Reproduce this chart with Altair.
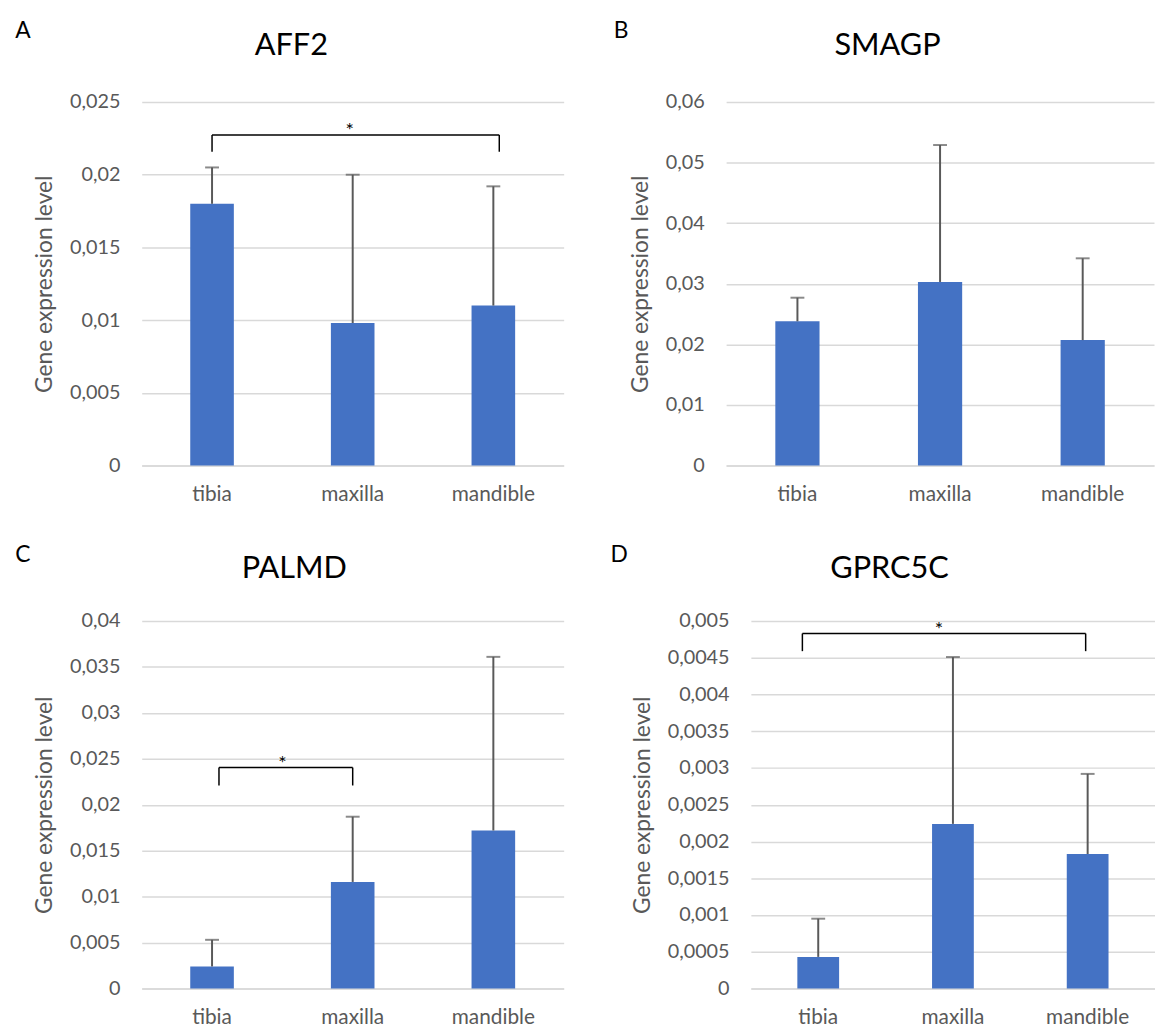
import altair as alt
import pandas as pd

categories = ["tibia", "maxilla", "mandible"]

aff2_mean = [0.0180, 0.0098, 0.0110]
aff2_upper = [0.0205, 0.0200, 0.0192]
smagp_mean = [0.0238, 0.0303, 0.0207]
smagp_upper = [0.0277, 0.0529, 0.0342]
palmd_mean = [0.0024, 0.0116, 0.0172]
palmd_upper = [0.0053, 0.0187, 0.0361]
gprc5c_mean = [0.00043, 0.00224, 0.00183]
gprc5c_upper = [0.00095, 0.00451, 0.00292]

aff2_ticks = [0, 0.005, 0.01, 0.015, 0.02, 0.025]
smagp_ticks = [0, 0.01, 0.02, 0.03, 0.04, 0.05, 0.06]
palmd_ticks = [0, 0.005, 0.01, 0.015, 0.02, 0.025, 0.03, 0.035, 0.04]
gprc5c_ticks = [0, 0.0005, 0.001, 0.0015, 0.002, 0.0025, 0.003, 0.0035, 0.004, 0.0045, 0.005]

# significance brackets: (from, to, line level, leg bottom)
aff2_sig = ("tibia", "mandible", 0.02273, 0.02158)
palmd_sig = ("tibia", "maxilla", 0.02405, 0.0221)
gprc5c_sig = ("tibia", "mandible", 0.00483, 0.00459)

BLUE = "#4472C4"
GREY = "#595959"
FONT = "Lato"


def xch(field, axis=None):
    kw = dict(scale=alt.Scale(domain=categories, paddingInner=0, paddingOuter=0), title=None)
    if axis is not None:
        kw["axis"] = axis
    return alt.X(field, **kw)


def panel(gene, letter, means, uppers, ticks, width, height,
          title_pos, letter_pos, sig=None, sig_offsets=(0, 0), star_dx=0):
    df = pd.DataFrame({"cat": categories, "mean": means, "upper": uppers})
    xaxis = alt.Axis(labelAngle=0, ticks=False, tickSize=0,
                     domainColor="#d9d9d9", domainWidth=1.5,
                     labelFontSize=21, labelColor=GREY, labelFont=FONT,
                     labelPadding=18)
    yscale = alt.Scale(domain=[ticks[0], ticks[-1]], nice=False)
    yaxis = alt.Axis(values=ticks, tickCount=len(ticks) + 2, grid=True,
                     gridColor="#d9d9d9", gridWidth=1.5,
                     domain=False, ticks=False, tickSize=0, labelOverlap=False,
                     labelExpr="replace(toString(datum.value), '.', ',')",
                     labelFontSize=20, labelColor=GREY, labelFont=FONT,
                     labelPadding=22, title="Gene expression level",
                     titleFontSize=23, titleColor=GREY, titleFont=FONT,
                     titleFontWeight="normal", titlePadding=13)
    base = alt.Chart(df)
    bars = base.mark_bar(color=BLUE, width=alt.RelativeBandSize(0.31)).encode(
        x=xch("cat:N", xaxis), y=alt.Y("mean:Q", scale=yscale, axis=yaxis))
    err = base.mark_rule(color=GREY, strokeWidth=2).encode(
        x=xch("cat:N"), y="mean:Q", y2="upper:Q")
    cap = base.mark_tick(color=GREY, thickness=2, size=14, orient="horizontal").encode(
        x=xch("cat:N"), y="upper:Q")
    layers = [bars, err, cap]

    if sig is not None:
        a, b, lvl, bottom = sig
        sdf = pd.DataFrame({"a": [a], "b": [b], "lvl": [lvl], "bottom": [bottom]})
        sbase = alt.Chart(sdf)
        hline = sbase.mark_rule(color="black", strokeWidth=1.5,
                                xOffset=sig_offsets[0], x2Offset=sig_offsets[1]).encode(
            x=xch("a:N"), x2="b:N", y="lvl:Q")
        leg_a = sbase.mark_rule(color="black", strokeWidth=1.5,
                                xOffset=sig_offsets[0]).encode(
            x=xch("a:N"), y="bottom:Q", y2="lvl:Q")
        leg_b = sbase.mark_rule(color="black", strokeWidth=1.5,
                                xOffset=sig_offsets[1]).encode(
            x=xch("b:N"), y="bottom:Q", y2="lvl:Q")
        star = sbase.mark_text(text="*", fontSize=20, font=FONT, color="black",
                               baseline="alphabetic", dx=star_dx, dy=2).encode(
            x=xch("a:N"), y="lvl:Q")
        layers += [hline, leg_a, leg_b, star]

    tdf = pd.DataFrame({"gene": [gene], "letter": [letter]})
    title = alt.Chart(tdf).mark_text(fontSize=31, font=FONT, color="black",
                                     align="center", baseline="middle").encode(
        x=alt.value(title_pos[0]), y=alt.value(title_pos[1]), text="gene:N")
    let = alt.Chart(tdf).mark_text(fontSize=23, font=FONT, color="black",
                                   align="center", baseline="middle").encode(
        x=alt.value(letter_pos[0]), y=alt.value(letter_pos[1]), text="letter:N")
    layers += [title, let]
    return alt.layer(*layers).properties(width=width, height=height)


pa = panel("AFF2", "A", aff2_mean, aff2_upper, aff2_ticks, 426, 367,
           (151, -56), (-120, -72), sig=aff2_sig, sig_offsets=(0, 6), star_dx=139)
pb = panel("SMAGP", "B", smagp_mean, smagp_upper, smagp_ticks, 432, 367,
           (163, -56), (-106, -72))
pc = panel("PALMD", "C", palmd_mean, palmd_upper, palmd_ticks, 426, 371,
           (154, -52), (-120, -67), sig=palmd_sig, sig_offsets=(7, 0), star_dx=71)
pd_ = panel("GPRC5C", "D", gprc5c_mean, gprc5c_upper, gprc5c_ticks, 408, 371,
            (140, -52), (-133, -67), sig=gprc5c_sig, sig_offsets=(-16, -2), star_dx=122)

row1 = alt.hconcat(pa, pb, spacing=164, bounds="flush")
row2 = alt.hconcat(pc, pd_, spacing=189, bounds="flush")
chart = alt.vconcat(row1, row2, spacing=40).properties(
    padding={"left": 7, "top": 7, "right": 0, "bottom": 0},
    background="white"
).configure_view(stroke="transparent", strokeWidth=0)

chart.save("out.html", embed_options={"renderer": "svg", "actions": False})
